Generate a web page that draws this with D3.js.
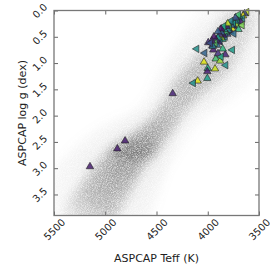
<!DOCTYPE html>
<html>
<head>
<meta charset="utf-8">
<script src="https://cdn.jsdelivr.net/npm/d3@7"></script>
<style>
  body { margin: 0; background: #fff; }
  text { font-family: "DejaVu Sans", sans-serif; fill: #222; }
</style>
</head>
<body>
<div id="chart"></div>
<script>
// ticks
const xTicks = [5500, 5000, 4500, 4000, 3500];
const yTicks = [0, 0.5, 1.0, 1.5, 2.0, 2.5, 3.0, 3.5];

// gray background sample, read as a ridge of density along the giant branch
const bandTeff = [5150, 5060, 4980, 4900, 4820, 4740, 4660, 4580, 4500, 4420, 4340, 4260, 4180, 4100, 4020, 3940, 3860, 3780, 3700, 3640];
const bandLogg = [3.85, 3.60, 3.35, 3.10, 2.90, 2.72, 2.60, 2.47, 2.30, 2.10, 1.87, 1.62, 1.45, 1.28, 1.12, 1.00, 0.77, 0.47, 0.25, 0.10];
const bandSpread = [260, 250, 240, 220, 200, 180, 160, 150, 140, 140, 140, 150, 160, 170, 180, 190, 200, 190, 170, 140];
const bandDensity = [0.13, 0.16, 0.19, 0.21, 0.23, 0.25, 0.26, 0.26, 0.25, 0.23, 0.21, 0.19, 0.17, 0.15, 0.14, 0.13, 0.12, 0.11, 0.1, 0.09];

// red clump
const clump = { teff: 4730, logg: 2.68, spreadTeff: 230, spreadLogg: 0.13, density: 0.42 };

// highlighted stars: [teff, logg, colour value, marker]
const lowStars = [
  [5149, 2.97, 0.08, "^"],
  [4882, 2.63, 0.08, "^"],
  [4807, 2.48, 0.08, "^"],
  [4342, 1.58, 0.1, "^"]
];

const outerStars = [
  [4108, 0.73, 0.5, "<"], [4030, 0.81, 0.32, "<"], [3995, 0.61, 0.12, "^"],
  [4037, 0.98, 0.95, "^"], [4000, 1.10, 0.6, "^"], [4004, 1.16, 0.08, "^"],
  [3929, 1.11, 0.92, "^"], [4098, 1.34, 0.95, "^"], [4141, 1.38, 0.5, "<"],
  [4004, 1.29, 0.55, "^"], [3922, 0.92, 0.7, "^"], [3880, 0.96, 0.85, "^"],
  [3825, 1.04, 0.5, "<"], [3829, 0.84, 0.1, "^"], [3760, 0.75, 0.55, "<"],
  [3854, 0.73, 0.65, "^"], [3946, 0.75, 0.08, "^"], [3956, 0.67, 0.1, "^"],
  [3900, 0.82, 0.15, "^"], [3870, 0.88, 0.6, "<"]
];

const clusterStars = [
  [3620, 0.03, 0.9, "<"], [3640, 0.06, 0.2, "^"], [3655, 0.10, 0.95, "^"],
  [3660, 0.15, 0.45, "<"], [3690, 0.12, 0.5, "^"], [3700, 0.18, 0.3, "<"],
  [3680, 0.22, 0.1, "^"], [3715, 0.22, 0.6, "<"], [3720, 0.28, 0.85, "^"],
  [3735, 0.20, 0.4, "^"], [3745, 0.30, 0.15, "^"], [3750, 0.25, 0.55, "<"],
  [3760, 0.35, 0.95, "^"], [3770, 0.28, 0.3, "^"], [3780, 0.40, 0.05, "^"],
  [3790, 0.32, 0.65, "<"], [3800, 0.38, 0.45, "^"], [3810, 0.45, 0.2, "^"],
  [3815, 0.30, 0.1, "^"], [3825, 0.42, 0.7, "^"], [3830, 0.50, 0.35, "<"],
  [3840, 0.36, 0.5, "^"], [3850, 0.47, 0.05, "^"], [3855, 0.55, 0.6, "^"],
  [3865, 0.42, 0.3, "^"], [3870, 0.52, 0.9, "^"], [3880, 0.58, 0.4, "<"],
  [3885, 0.46, 0.15, "^"], [3895, 0.60, 0.1, "^"], [3900, 0.52, 0.55, "^"],
  [3910, 0.66, 0.35, "^"], [3920, 0.56, 0.2, "^"], [3930, 0.62, 0.75, "<"],
  [3940, 0.50, 0.05, "^"], [3950, 0.68, 0.4, "^"], [3960, 0.58, 0.1, "^"],
  [3975, 0.62, 0.25, "<"], [3700, 0.08, 0.7, "<"], [3730, 0.14, 0.25, "^"],
  [3775, 0.20, 0.45, "<"], [3805, 0.25, 0.9, "^"], [3845, 0.30, 0.6, "<"],
  [3870, 0.35, 0.05, "^"], [3900, 0.40, 0.3, "^"], [3665, 0.28, 0.8, "<"],
  [3700, 0.36, 0.65, "^"], [3745, 0.44, 0.35, "<"]
];

const W = 270, H = 270;
const plot = { left: 54, right: 259, top: 10.5, bottom: 215.5 };

const svg = d3.select("#chart").append("svg")
  .attr("width", W).attr("height", H);

const x = d3.scaleLinear([5500, 3500], [plot.left, plot.right]);
const y = d3.scaleLinear([0, 3.9], [plot.top, plot.bottom]);

const defs = svg.append("defs");
defs.append("clipPath").attr("id", "clip")
  .append("rect")
  .attr("x", plot.left).attr("y", plot.top)
  .attr("width", plot.right - plot.left).attr("height", plot.bottom - plot.top);

// blur plus grain so the cloud looks like a mass of tiny points
const f = defs.append("filter").attr("id", "grain")
  .attr("filterUnits", "userSpaceOnUse")
  .attr("color-interpolation-filters", "sRGB")
  .attr("x", 0).attr("y", 0).attr("width", W).attr("height", H);
f.append("feGaussianBlur").attr("in", "SourceGraphic").attr("stdDeviation", 5).attr("result", "b");
f.append("feTurbulence").attr("type", "fractalNoise").attr("baseFrequency", 1.2)
  .attr("numOctaves", 1).attr("seed", 4).attr("result", "n");
f.append("feColorMatrix").attr("in", "n").attr("type", "matrix")
  .attr("values", "0 0 0 0 1  0 0 0 0 1  0 0 0 0 1  1.6 0 0 0 0").attr("result", "na");
f.append("feComposite").attr("in", "b").attr("in2", "na")
  .attr("operator", "arithmetic").attr("k1", 1).attr("k2", 0).attr("k3", 0).attr("k4", 0);

const band = d3.range(bandTeff.length).map((i) => ({
  teff: bandTeff[i], logg: bandLogg[i], s: bandSpread[i], d: bandDensity[i]
}));

const cloud = svg.append("g").attr("clip-path", "url(#clip)")
  .append("g").attr("filter", "url(#grain)");

const rad = (s) => x(5500 - s) - x(5500);

// faint halo
cloud.selectAll("circle.halo")
  .data(band)
  .join("circle")
  .attr("class", "halo")
  .attr("cx", (d) => x(d.teff))
  .attr("cy", (d) => y(d.logg))
  .attr("r", (d) => rad(d.s * 2.2))
  .attr("fill", "#777")
  .attr("fill-opacity", 0.02);

cloud.selectAll("circle.core")
  .data(band)
  .join("circle")
  .attr("class", "core")
  .attr("cx", (d) => x(d.teff))
  .attr("cy", (d) => y(d.logg))
  .attr("r", (d) => rad(d.s))
  .attr("fill", "#555")
  .attr("fill-opacity", (d) => d.d);

cloud.append("ellipse")
  .attr("cx", x(clump.teff))
  .attr("cy", y(clump.logg))
  .attr("rx", rad(clump.spreadTeff))
  .attr("ry", y(clump.spreadLogg) - y(0))
  .attr("fill", "#555")
  .attr("fill-opacity", clump.density);

// axes
const tickColor = "#666";
const gx = svg.append("g").attr("transform", `translate(0,${plot.bottom})`)
  .call(d3.axisBottom(x).tickValues(xTicks).tickSize(-4).tickFormat(d3.format("d")));
gx.selectAll("text")
  .attr("y", null).attr("dy", null)
  .attr("transform", "translate(0,14) rotate(-45)")
  .attr("text-anchor", "middle")
  .attr("dominant-baseline", "central");

const gy = svg.append("g").attr("transform", `translate(${plot.left},0)`)
  .call(d3.axisLeft(y).tickValues(yTicks).tickSize(-4).tickFormat(d3.format(".1f")));
gy.selectAll("text")
  .attr("x", null).attr("dy", null)
  .attr("transform", "translate(-14,0) rotate(-45)")
  .attr("text-anchor", "middle")
  .attr("dominant-baseline", "central");

svg.append("g").attr("transform", `translate(0,${plot.top})`)
  .call(d3.axisTop(x).tickValues(xTicks).tickSize(-4).tickFormat(""));
svg.append("g").attr("transform", `translate(${plot.right},0)`)
  .call(d3.axisRight(y).tickValues(yTicks).tickSize(-4).tickFormat(""));

svg.selectAll(".domain").remove();
svg.selectAll(".tick line").attr("stroke", tickColor).attr("stroke-width", 1);
svg.selectAll(".tick text").style("font-size", "10px").attr("fill", "#222");

// stars
const viridis = d3.interpolateViridis;
const tri = d3.symbol().type(d3.symbolTriangle).size(24);
svg.append("g")
  .selectAll("path")
  .data(lowStars.concat(outerStars, clusterStars))
  .join("path")
  .attr("d", tri)
  .attr("transform", ([t, g, _c, m]) => `translate(${x(t)},${y(g)}) rotate(${m === "<" ? -90 : 0})`)
  .attr("fill", ([_t, _g, c]) => viridis(c))
  .attr("fill-opacity", 0.85)
  .attr("stroke", "#222")
  .attr("stroke-width", 0.6);

// frame
svg.append("rect")
  .attr("x", plot.left).attr("y", plot.top)
  .attr("width", plot.right - plot.left).attr("height", plot.bottom - plot.top)
  .attr("fill", "none")
  .attr("stroke", "#777")
  .attr("stroke-width", 1.3);

// axis labels
svg.append("text")
  .attr("x", (plot.left + plot.right) / 2).attr("y", 258)
  .attr("text-anchor", "middle")
  .attr("dominant-baseline", "central")
  .style("font-size", "11px")
  .text("ASPCAP Teff (K)");

svg.append("text")
  .attr("transform", `translate(22,${(plot.top + plot.bottom) / 2}) rotate(-90)`)
  .attr("text-anchor", "middle")
  .attr("dominant-baseline", "central")
  .style("font-size", "11px")
  .text("ASPCAP log g (dex)");
</script>
</body>
</html>
